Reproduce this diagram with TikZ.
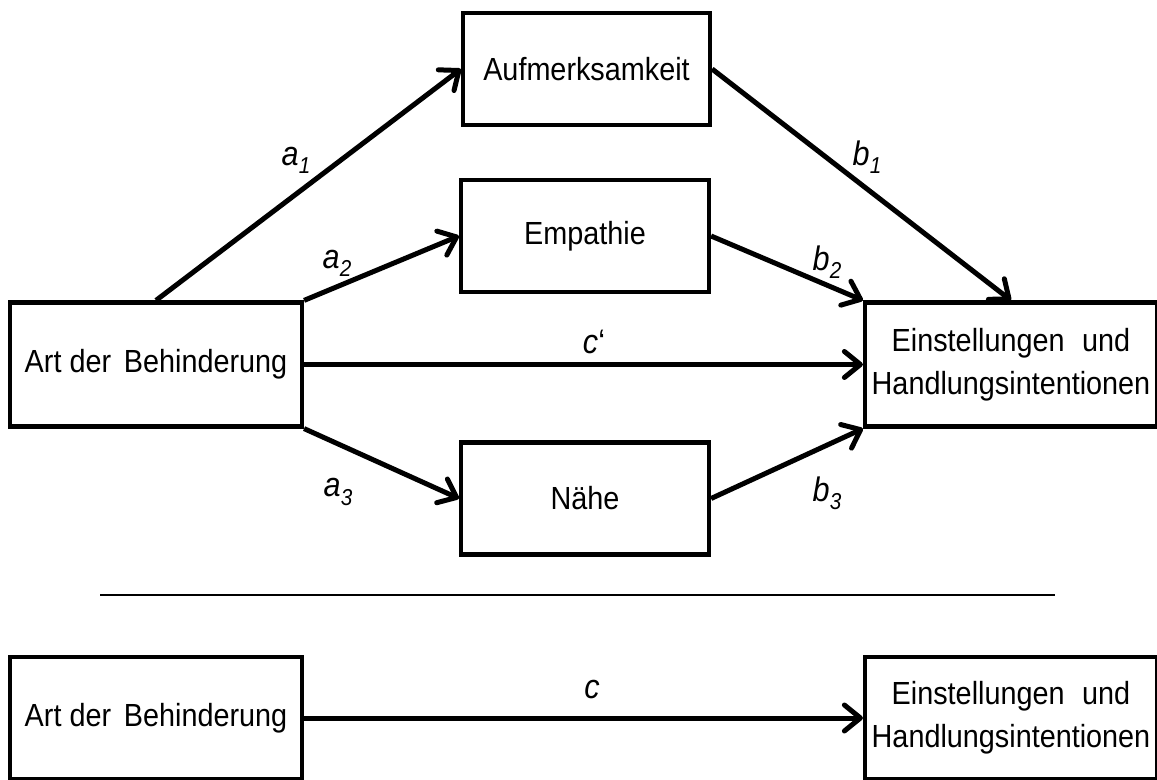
\documentclass[tikz,border=0pt]{standalone}
\usepackage{fontspec}
\setmainfont[FakeStretch=0.9]{Liberation Sans}
\usetikzlibrary{arrows.meta}

% path coefficient: italic letter with a lowered index
\newcommand\pathlab[2]{\textit{#1}\raisebox{-0.45ex}{\fontsize{11.5}{12}\selectfont\textit{#2}}}

\begin{document}
\begin{tikzpicture}[x=0.5pt,y=-0.5pt,
  font=\fontsize{16}{21.5}\selectfont,
  box/.style={draw,line width=2.1pt,inner sep=0pt,align=center},
  mbox/.style={box,minimum width=124pt,minimum height=56pt},
  endbox/.style={box,minimum width=146pt,minimum height=62pt},
  arr/.style={line width=2.5pt,-{Straight Barb[round,length=8pt,width=13pt]}},
  lab/.style={inner sep=0pt,font=\fontsize{17}{20}\selectfont}]

\useasboundingbox (0,0) rectangle (1157,780);

% mediation model
\node[mbox,minimum width=123.5pt] (auf) at (586.5,69) {Aufmerksamkeit};
\node[mbox] (emp) at (585,236) {Empathie};
\node[mbox] (nah) at (585,498.5) {Nähe};
\node[endbox] (art) at (156,364.5) {Art der\hspace{0.15em} Behinderung};
\node[endbox] (ein) at (1011,364.5) {Einstellungen\hspace{0.3em} und\\Handlungsintentionen};

\draw[arr] (art.north) -- (auf.west);
\draw[arr] (auf.east) -- (ein.north);
\draw[arr] (art.north east) -- (emp.west);
\draw[arr] (emp.east) -- (ein.north west);
\draw[arr] (art.east) -- (ein.west);
\draw[arr] (art.south east) -- (nah.west);
\draw[arr] (nah.east) -- (ein.south west);

\node[lab] (la1) at (296,160) {\pathlab{a}{1}};
\node[lab] (lb1) at (867,157) {\pathlab{b}{1}};
\node[lab] (la2) at (337,263) {\pathlab{a}{2}};
\node[lab] (lb2) at (827,262) {\pathlab{b}{2}};
\node[lab] (lc1) at (594,342) {\textit{c}‘};
\node[lab] (la3) at (338,492) {\pathlab{a}{3}};
\node[lab] (lb3) at (827,493) {\pathlab{b}{3}};

% separator
\coordinate (sepL) at (100,595);
\coordinate (sepR) at (1055,595);
\draw[line width=1.1pt] (sepL) -- (sepR);

% total effect
\node[endbox,minimum height=61pt] (art2) at (156,718) {Art der\hspace{0.15em} Behinderung};
\node[endbox,minimum height=61pt] (ein2) at (1011,718) {Einstellungen\hspace{0.3em} und\\Handlungsintentionen};
\draw[arr] (art2.east) -- (ein2.west);
\node[lab] (lc) at (592,690) {\textit{c}};

\end{tikzpicture}
\end{document}
